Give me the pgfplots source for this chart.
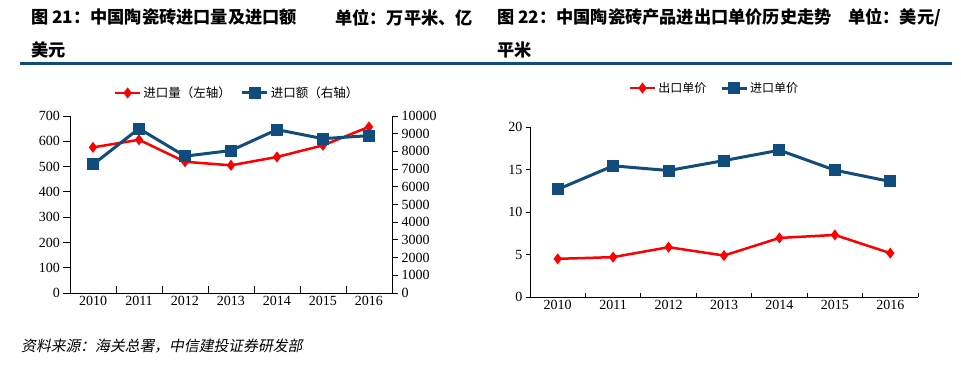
\documentclass[border=0pt]{standalone}
\usepackage{pgfplots}
\pgfplotsset{compat=1.18}
\usepackage{fontspec}
\setmainfont{Liberation Serif}
\newfontfamily\cjk{Noto Sans CJK SC}
\newfontfamily\cjkit{Noto Sans CJK SC}[FakeSlant=0.2]
\definecolor{dblue}{RGB}{16,77,125}
\definecolor{rred}{RGB}{255,0,0}
\pgfplotsset{
  base/.style={
    scale only axis,
    xmin=-0.5, xmax=6.5,
    xtick={-0.5,0.5,...,6.5},
    xticklabels={2010,2011,2012,2013,2014,2015,2016},
    x tick label as interval,
    xtick align=inside,
    ytick align=outside,
    scaled y ticks=false,
    tick style={black, line width=0.8bp},
    axis line style={black, line width=0.8bp},
    tick label style={font=\fontsize{14bp}{15bp}\selectfont},
    /pgf/number format/assume math mode=true,
    /pgf/number format/1000 sep={},
    clip=false,
  },
  redl/.style={color=rred, line width=2.5bp, mark=diamond*, mark size=3.5bp, mark options={solid}},
  bluel/.style={color=dblue, line width=3bp, mark=square*, mark size=4.5bp, mark options={solid}},
}
\begin{document}
\begin{tikzpicture}
\path (0bp,0bp) rectangle (961bp,367bp);
\fill[dblue] (20bp,301.5bp) rectangle (952bp,304.5bp);
% titles
\node[anchor=west,inner sep=0] at (31bp,349.5bp) {\cjk\bfseries\fontsize{17.2bp}{18bp}\selectfont 图\ 21：中国陶瓷砖进口量及进口额};
\node[anchor=west,inner sep=0] at (335bp,349.5bp) {\cjk\bfseries\fontsize{17.2bp}{18bp}\selectfont 单位：万平米、亿};
\node[anchor=west,inner sep=0] at (31bp,317bp) {\cjk\bfseries\fontsize{17.2bp}{18bp}\selectfont 美元};
\node[anchor=west,inner sep=0] at (497bp,349.5bp) {\cjk\bfseries\fontsize{17.2bp}{18bp}\selectfont 图\ 22：中国陶瓷砖产品进出口单价历史走势};
\node[anchor=west,inner sep=0] at (848bp,349.5bp) {\cjk\bfseries\fontsize{17.2bp}{18bp}\selectfont 单位：美元/};
\node[anchor=west,inner sep=0] at (497bp,317bp) {\cjk\bfseries\fontsize{17.2bp}{18bp}\selectfont 平米};
\node[anchor=west,inner sep=0] at (21bp,21bp) {\cjkit\fontsize{14.8bp}{16bp}\selectfont 资料来源：海关总署，中信建投证券研发部};

% chart 1 left axis
\begin{axis}[base, at={(70bp,74bp)}, anchor=south west, width=322bp, height=177bp,
  axis x line*=bottom, axis y line*=left,
  major tick length=6.5bp,
  ymin=0, ymax=700, ytick={0,100,...,700},
  legend columns=2,
  legend style={at={(0.519,1.13)}, anchor=center, draw=none, fill=none,
    font=\cjk\fontsize{12.5bp}{14bp}\selectfont,
    /tikz/every even column/.append style={column sep=8bp},
    inner sep=0pt},
  legend image code/.code={\draw[#1] plot coordinates {(0bp,0bp) (12.5bp,0bp) (25bp,0bp)};},
]
\addplot[redl, legend image post style={mark repeat=2, mark phase=2}] coordinates {(0,576) (1,606) (2,519) (3,505) (4,538) (5,584) (6,657)};
\addlegendentry{进口量（左轴）}
\addlegendimage{bluel, mark repeat=2, mark phase=2}
\addlegendentry{进口额（右轴）}
\end{axis}
% chart 1 right axis
\begin{axis}[base, at={(70bp,74bp)}, anchor=south west, width=322bp, height=177bp,
  axis x line=none, axis y line*=right,
  major tick length=6bp,
  ymin=0, ymax=10000, ytick={0,1000,...,10000},
]
\addplot[bluel] coordinates {(0,7260) (1,9290) (2,7730) (3,8050) (4,9230) (5,8720) (6,8890)};
\end{axis}

% chart 2
\begin{axis}[base, at={(530bp,70bp)}, anchor=south west, width=388bp, height=170bp,
  axis x line*=bottom, axis y line*=left,
  major tick length=4bp,
  ymin=0, ymax=20, ytick={0,5,...,20},
  legend columns=2,
  legend style={at={(0.4755,1.229)}, anchor=center, draw=none, fill=none,
    font=\cjk\fontsize{12bp}{14bp}\selectfont,
    /tikz/every even column/.append style={column sep=12bp},
    inner sep=0pt},
  legend image code/.code={\draw[#1] plot coordinates {(0bp,0bp) (12.5bp,0bp) (25bp,0bp)};},
]
\addplot[redl, legend image post style={mark repeat=2, mark phase=2}] coordinates {(0,4.49) (1,4.69) (2,5.86) (3,4.88) (4,6.95) (5,7.30) (6,5.16)};
\addlegendentry{出口单价}
\addplot[bluel, legend image post style={mark repeat=2, mark phase=2}] coordinates {(0,12.66) (1,15.43) (2,14.88) (3,16.05) (4,17.27) (5,14.92) (6,13.59)};
\addlegendentry{进口单价}
\end{axis}
\end{tikzpicture}
\end{document}
